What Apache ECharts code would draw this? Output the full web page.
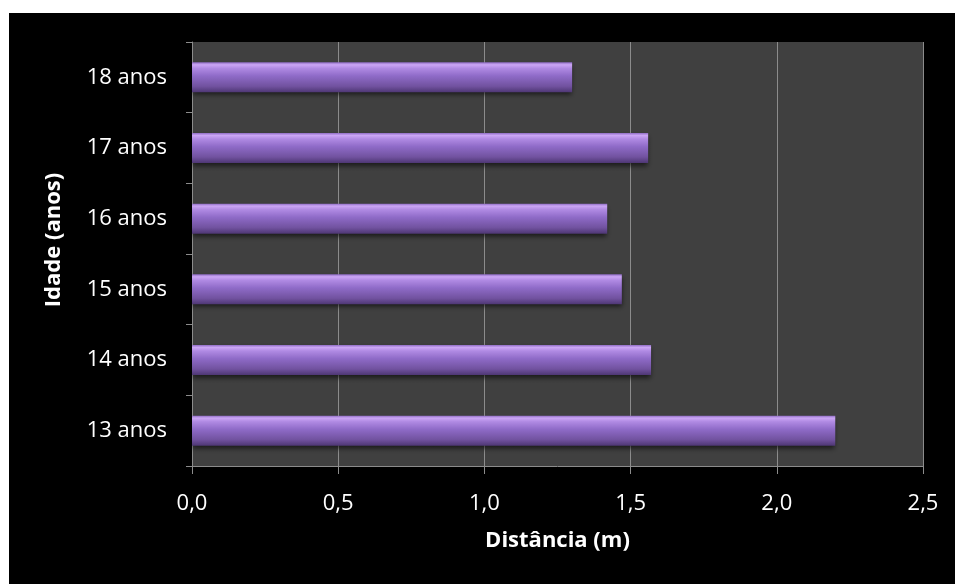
<!DOCTYPE html>
<html>
<head>
<meta charset="utf-8">
<script src="https://cdn.jsdelivr.net/npm/echarts@6/dist/echarts.min.js"></script>
<style>
  html, body { margin: 0; padding: 0; background: #ffffff; }
  #chart { position: absolute; left: 9px; top: 13px; width: 946px; height: 571px; background: #000000; }
</style>
</head>
<body>
<div id="chart"></div>
<script>
var categories = ['13 anos', '14 anos', '15 anos', '16 anos', '17 anos', '18 anos'];
var distances = [2.20, 1.57, 1.47, 1.42, 1.56, 1.30];
var xTicks = [0, 0.5, 1.0, 1.5, 2.0, 2.5];

(function() {
  var font = '"Open Sans", Lato, sans-serif';
  var chart = echarts.init(document.getElementById('chart'), null, { renderer: 'canvas' });
  chart.setOption({
    animation: false,
    backgroundColor: '#000000',
    grid: {
      left: 183, top: 29, right: 32, bottom: 118,
      show: true, backgroundColor: '#404040', borderWidth: 0
    },
    xAxis: {
      type: 'value',
      min: xTicks[0],
      max: xTicks[xTicks.length - 1],
      interval: 0.5,
      name: 'Distância (m)',
      nameLocation: 'middle',
      nameGap: 64,
      nameMoveOverlap: false,
      nameTextStyle: { color: '#ffffff', fontSize: 22, fontWeight: 'bold', fontFamily: font },
      axisLine: { show: true, lineStyle: { color: '#8c8c8c', width: 1 } },
      axisTick: { show: true, length: 8, lineStyle: { color: '#8c8c8c' } },
      axisLabel: {
        color: '#ffffff', fontSize: 22, fontFamily: font, margin: 27,
        formatter: function(v) { return v.toFixed(1).replace('.', ','); }
      },
      splitLine: { show: true, lineStyle: { color: '#8c8c8c', width: 1 } }
    },
    yAxis: {
      type: 'category',
      data: categories,
      name: 'Idade (anos)',
      nameLocation: 'middle',
      nameGap: 127,
      nameMoveOverlap: false,
      nameTextStyle: {
        color: '#ffffff', fontSize: 22, fontWeight: 'bold', fontFamily: font,
        padding: [0, 0, 0, 28]
      },
      axisLine: { show: true, lineStyle: { color: '#8c8c8c', width: 1 } },
      axisTick: { show: true, length: 6, inside: false, lineStyle: { color: '#8c8c8c' } },
      axisLabel: { color: '#ffffff', fontSize: 22, fontFamily: font, margin: 25 },
      splitLine: { show: false }
    },
    series: [{
      type: 'bar',
      data: distances,
      barWidth: 30,
      itemStyle: {
        color: new echarts.graphic.LinearGradient(0, 0, 0, 1, [
          { offset: 0, color: '#8f6cc4' },
          { offset: 0.08, color: '#cba6f5' },
          { offset: 0.2, color: '#b08ae3' },
          { offset: 0.45, color: '#8f6bc8' },
          { offset: 0.8, color: '#71529f' },
          { offset: 1, color: '#4e3774' }
        ]),
        shadowColor: 'rgba(0,0,0,0.6)',
        shadowBlur: 5,
        shadowOffsetY: 3
      }
    }]
  });
})();
</script>
</body>
</html>
